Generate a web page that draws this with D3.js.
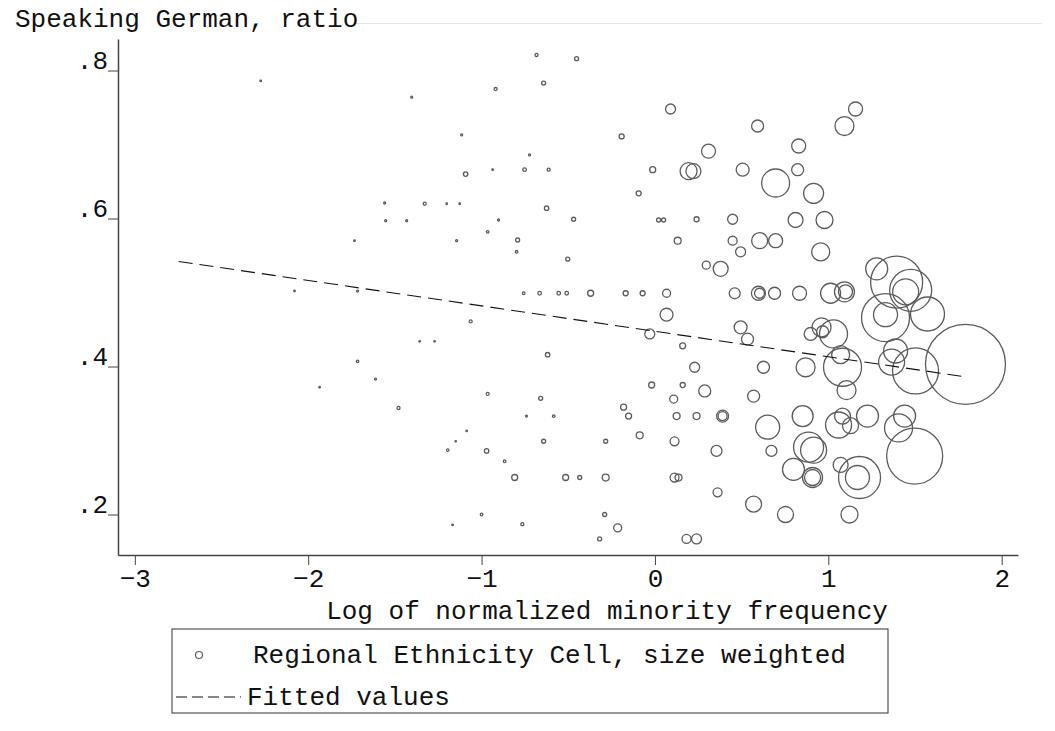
<!DOCTYPE html>
<html>
<head>
<meta charset="utf-8">
<script src="https://cdn.jsdelivr.net/npm/d3@7"></script>
<style>
  html, body { margin: 0; padding: 0; background: #fff; }
  #chart text { font-family: "Courier New", "Liberation Mono", monospace; fill: #111; }
  .axis path, .axis line { stroke: #444; }
</style>
</head>
<body>
<div id="chart"></div>
<script>
// x: log of normalized minority frequency
const xVals = [
  -2.274, -1.403, -1.559, -1.553, -1.432, -1.733, -2.079, -1.715, -1.715, -1.612, -1.934, -1.479,
  -0.683, -0.452, -0.642, -0.919, 0.090, -1.115, -0.192, 0.309, -0.723, -1.092, -0.936, -0.752,
  -0.613, -0.013, 0.194, 0.222, -0.094, -1.328, -1.201, -1.126, -0.625, -0.902, -0.469, 0.021,
  0.050, 0.240, 0.131, -1.144, -0.965, -0.792, -0.798, -0.503, 0.296, -0.757, -0.665, -0.555,
  -0.509, -0.371, -0.169, -0.071, 0.067,
  -1.063, -1.357, -1.271, -0.619, 0.067, -0.030, 0.160, 0.229, -0.019, 0.160, 0.287, 0.108,
  -0.965, -0.659, -0.181, -0.152, 0.125, 0.240, -0.741, -0.584, -0.088, 0.113, -1.086, -1.149,
  -0.642, -0.284, -1.195, -0.971, -0.867, -0.809, -0.515, -0.434, -0.284, 0.113, 0.136, -1.000,
  -1.167, -0.765, -0.290, -0.215, -0.319, 0.182, 0.240,
  1.157, 1.093, 0.592, 0.829, 0.506, 0.823, 0.696, 0.915, 0.448, 0.811, 0.978, 0.448, 0.604,
  0.696, 0.494, 0.956, 0.379, 1.279, 1.394, 1.475, 1.446, 0.460, 0.597, 0.603, 0.690, 0.834,
  1.013, 1.093, 1.099,
  1.330, 1.330, 1.572, 0.494, 0.534, 0.961, 0.898, 0.967, 1.030, 1.071, 1.082, 1.388, 1.365,
  1.503, 1.791, 0.626, 0.869, 1.105, 0.569, 0.390, 0.390, 0.650, 0.852, 1.082, 1.059, 1.128,
  1.226, 1.440, 1.405, 1.498, 0.886, 0.915, 0.355, 0.672, 0.799, 0.909, 0.909, 1.071, 1.180,
  1.168, 0.361, 0.569, 0.753, 1.122
];

// y: speaking German, ratio
const yVals = [
  .786, .764, .621, .597, .597, .570, .502, .502, .407, .383, .372, .344,
  .821, .816, .783, .775, .748, .713, .711, .691, .686, .660, .666, .666,
  .666, .666, .664, .664, .634, .620, .620, .620, .614, .598, .599, .598,
  .598, .599, .570, .570, .582, .571, .555, .545, .537, .499, .499, .499,
  .499, .499, .499, .499, .499,
  .461, .434, .434, .416, .470, .444, .428, .399, .375, .375, .367, .356,
  .363, .357, .345, .333, .333, .333, .333, .333, .307, .299, .313, .299,
  .299, .299, .287, .286, .272, .250, .250, .250, .250, .250, .250, .200,
  .186, .187, .200, .182, .167, .167, .167,
  .748, .725, .725, .698, .666, .666, .648, .634, .599, .598, .598, .570, .570,
  .570, .555, .555, .532, .532, .514, .503, .501, .499, .499, .499, .499, .499,
  .499, .501, .501,
  .466, .470, .471, .453, .437, .453, .444, .447, .444, .416, .399, .421, .406,
  .394, .403, .399, .399, .368, .360, .333, .333, .318, .333, .333, .321, .320,
  .333, .333, .317, .279, .291, .287, .286, .286, .261, .250, .250, .267, .250,
  .250, .230, .214, .200, .200
];

// cell size weights
const weights = [
  0.6, 1, 1, 1, 1, 0.6, 0.6, 1, 1.4, 1, 0.6, 2.3,
  2.3, 4, 4, 2.3, 25, 1, 6.3, 49, 1, 4.8, 0.6, 3.2,
  2.3, 9, 72, 56, 6.3, 2.3, 0.6, 0.6, 4.8, 1, 4, 4,
  4, 6.3, 12, 1, 1.7, 4, 1.7, 4, 16, 1.7, 3.2, 3.2,
  3.2, 9, 6.3, 6.3, 16,
  2.3, 0.6, 0.6, 4.8, 42, 25, 9, 25, 9, 6.3, 36, 16,
  2.3, 4, 9, 9, 12, 12, 1, 1.7, 12, 20, 0.5, 0.5,
  4, 4, 1.4, 4.8, 1.7, 9, 9, 4, 12, 20, 12, 1.7,
  0.6, 2.3, 4, 16, 4, 20, 25,
  49, 90, 36, 49, 42, 36, 196, 100, 25, 56, 72, 20, 64,
  49, 25, 81, 56, 121, 676, 441, 169, 30, 49, 25, 36, 49,
  100, 100, 49,
  576, 144, 289, 42, 36, 90, 42, 36, 196, 81, 361, 144, 169,
  529, 1600, 36, 90, 90, 36, 36, 20, 144, 110, 64, 169, 64,
  121, 121, 196, 784, 225, 169, 30, 30, 121, 100, 64, 56, 441,
  144, 20, 64, 64, 72
];

// fitted values (linear fit end points)
const fitX = [-2.747, 1.792];
const fitY = [0.542, 0.386];

const xTicks = [-3, -2, -1, 0, 1, 2];
const yTicks = [0.2, 0.4, 0.6, 0.8];

const yTitle = "Speaking German, ratio";
const xTitle = "Log of normalized minority frequency";
const legendLabels = ["Regional Ethnicity Cell, size weighted", "Fitted values"];

const W = 1055, H = 731;
const fontSize = 26;

const svg = d3.select("#chart").append("svg")
  .attr("width", W)
  .attr("height", H);

// scales: plot region 118..1018 x 39..555
const x = d3.scaleLinear().domain([-3.097, 2.094]).range([118, 1018]);
const y = d3.scaleLinear().domain([0.1453, 0.8426]).range([555, 39]);
const r = d3.scaleSqrt().domain([0, 1600]).range([0, 40]);

// faint outer region line next to the y title
svg.append("line")
  .attr("x1", 356).attr("x2", 1042)
  .attr("y1", 23.5).attr("y2", 23.5)
  .attr("stroke", "#e6e6e6")
  .attr("stroke-width", 1);

svg.append("text")
  .attr("x", 15)
  .attr("y", 27)
  .attr("font-size", fontSize)
  .text(yTitle);

// points
const pts = xVals.map((d, i) => ({x: d, y: yVals[i], w: weights[i]}));

svg.append("g")
  .selectAll("circle")
  .data(pts)
  .enter()
    .append("circle")
    .attr("cx", d => x(d.x))
    .attr("cy", d => y(d.y))
    .attr("r", d => r(d.w))
    .attr("fill", "none")
    .attr("stroke", "#5c5c5c")
    .attr("stroke-width", 1.3);

// fitted line
const line = d3.line()
  .x((d, i) => x(fitX[i]))
  .y((d, i) => y(d));

svg.append("path")
  .datum(fitY)
  .attr("d", line)
  .attr("fill", "none")
  .attr("stroke", "#111")
  .attr("stroke-width", 1.1)
  .attr("stroke-dasharray", "14,7");

// X axis
const xAxis = svg.append("g")
  .attr("class", "axis")
  .attr("transform", "translate(0,555)")
  .call(d3.axisBottom(x).tickValues(xTicks).tickSize(10).tickSizeOuter(0)
    .tickFormat(d3.format("d")));
xAxis.select(".domain").attr("stroke", "#777").attr("stroke-width", 1.5);
xAxis.selectAll(".tick text")
  .attr("font-size", fontSize)
  .attr("y", 32)
  .attr("dy", 0);

// Y axis
const yAxis = svg.append("g")
  .attr("class", "axis")
  .attr("transform", "translate(118,0)")
  .call(d3.axisLeft(y).tickValues(yTicks).tickSize(10).tickSizeOuter(0)
    .tickFormat(d => d3.format(".1f")(d).replace(/^0/, "")));
yAxis.select(".domain").attr("stroke", "#777").attr("stroke-width", 1.5);
yAxis.selectAll(".tick text")
  .attr("font-size", fontSize)
  .attr("x", -10)
  .attr("y", -2)
  .attr("dy", 0)
  .attr("text-anchor", "end");

svg.append("text")
  .attr("x", 607)
  .attr("y", 619)
  .attr("text-anchor", "middle")
  .attr("font-size", fontSize)
  .text(xTitle);

// legend
const lg = svg.append("g");
lg.append("rect")
  .attr("x", 172).attr("y", 629)
  .attr("width", 716).attr("height", 84)
  .attr("fill", "none")
  .attr("stroke", "#333")
  .attr("stroke-width", 1);

lg.append("circle")
  .attr("cx", 199).attr("cy", 655)
  .attr("r", 3.5)
  .attr("fill", "none")
  .attr("stroke", "#5c5c5c")
  .attr("stroke-width", 1.2);

lg.append("line")
  .attr("x1", 176).attr("x2", 241)
  .attr("y1", 697).attr("y2", 697)
  .attr("stroke", "#111")
  .attr("stroke-width", 1.1)
  .attr("stroke-dasharray", "11,5");

lg.selectAll("text.lab")
  .data(legendLabels)
  .enter()
    .append("text")
    .attr("class", "lab")
    .attr("x", (d, i) => i === 0 ? 253 : 247)
    .attr("y", (d, i) => 663 + i * 42)
    .attr("font-size", fontSize)
    .text(d => d);
</script>
</body>
</html>
